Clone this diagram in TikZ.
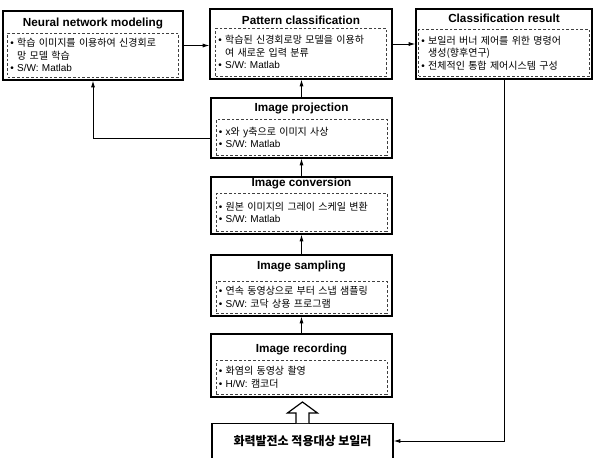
\documentclass[tikz,border=0pt]{standalone}
\usepackage{fontspec}
\setmainfont{Liberation Sans}
\newfontfamily\kr{Noto Sans CJK KR}
\newfontfamily\lat{Liberation Sans}
\usetikzlibrary{positioning, arrows.meta, calc}
\tikzset{
  blk/.style={draw, line width=0.9pt, inner sep=0pt},
  ttl/.style={font=\bfseries\fontsize{8.8}{10}\selectfont, inner sep=0pt, anchor=base},
  lst/.style={draw=black!75, dash pattern=on 2pt off 1.5pt, line width=0.4pt, anchor=south,
    text width=124pt, align=left, inner sep=2pt, font=\kr\fontsize{7.5}{9.4}\selectfont},
  arr/.style={-{Latex[length=5pt,width=3pt]}, line width=0.7pt},
}
\newcommand{\bul}{{\lat •}\ }
\newcommand{\ind}{\phantom{\bul}}
\begin{document}
\begin{tikzpicture}[x=0.75pt, y=-0.75pt]
  \useasboundingbox (0,0) rectangle (594,458);
  % top row
  \node[blk, minimum width=135pt, minimum height=51.75pt] (nn) at (93,45.5) {};
  \node[ttl] (nnt) at ([yshift=-12pt]nn.north) {Neural network modeling};
  \node[lst, minimum height=33pt] (nnl) at ([yshift=2.25pt]nn.south)
    {\bul 학습 이미지를 이용하여 신경회로\\\ind 망 모델 학습\\\bul{\lat S/W: Matlab}};

  \node[blk, minimum width=136.5pt, minimum height=52.5pt] (pc) at (301,44) {};
  \node[ttl] (pct) at ([yshift=-12pt]pc.north) {Pattern classification};
  \node[lst, minimum height=36pt] (pcl) at ([yshift=2.25pt]pc.south)
    {\bul 학습된 신경회로망 모델을 이용하\\\ind 여 새로운 입력 분류\\\bul{\lat S/W: Matlab}};

  \node[blk, minimum width=132pt, minimum height=52.5pt] (cr) at (504,44) {};
  \node[ttl] (crt) at ([yshift=-10.5pt]cr.north) {Classification result};
  \node[lst, minimum height=35.25pt] (crl) at ([yshift=2.25pt]cr.south)
    {\bul 보일러 버너 제어를 위한 명령어\\\ind 생성(향후연구)\\\bul 전체적인 통합 제어시스템 구성};

  % processing chain
  \node[blk, minimum width=135.75pt, minimum height=45pt] (pj) at (301.5,128) {};
  \node[ttl] (pjt) at ([yshift=-10.5pt]pj.north) {Image projection};
  \node[lst, minimum height=27pt] (pjl) at ([yshift=2.25pt]pj.south)
    {\bul x와 y축으로 이미지 사상\\\bul{\lat S/W: Matlab}};

  \node[blk, minimum width=135.75pt, minimum height=42.75pt] (cv) at (301.5,205.5) {};
  \node[ttl] (cvt) at ([yshift=-7.5pt]cv.north) {Image conversion};
  \node[lst, minimum height=28.5pt] (cvl) at ([yshift=2.25pt]cv.south)
    {\bul 원본 이미지의 그레이 스케일 변환\\\bul{\lat S/W: Matlab}};

  \node[blk, minimum width=135.75pt, minimum height=45.75pt] (sp) at (301.5,285.5) {};
  \node[ttl] (spt) at ([yshift=-11.25pt]sp.north) {Image sampling};
  \node[lst, minimum height=24pt] (spl) at ([yshift=2.25pt]sp.south)
    {\bul 연속 동영상으로 부터 스냅 샘플링\\\bul{\lat S/W:} 코닥 상용 프로그램};

  \node[blk, minimum width=135.75pt, minimum height=47.25pt] (rc) at (301.5,365.5) {};
  \node[ttl] (rct) at ([yshift=-14.25pt]rc.north) {Image recording};
  \node[lst, minimum height=25.5pt] (rcl) at ([yshift=2.25pt]rc.south)
    {\bul 화염의 동영상 촬영\\\bul{\lat H/W:} 캠코더};

  % boiler (runs off the bottom edge)
  \node[blk, minimum width=135.75pt, minimum height=39pt, anchor=north] (bl) at (302.5,423) {};
  \node[font=\kr\bfseries\fontsize{9}{10}\selectfont] (blt) at (302.5,441) {화력발전소 적용대상 보일러};

  % connectors
  \draw[arr] (nn.east) -- (nn.east -| pc.west);
  \draw[arr] (pc.east) -- (cr.west);
  \draw[arr] (pj.north) -- (pj.north |- pc.south);
  \draw[arr] ([yshift=-7.5pt]pj.west) -| (nn.south);
  \draw[arr] (cv.north) -- (cv.north |- pj.south);
  \draw[arr] (sp.north) -- (sp.north |- cv.south);
  \draw[arr] (rc.north) -- (rc.north |- sp.south);
  \draw[arr] (cr.south) |- (blt.east -| bl.east);
  % hollow arrow boiler -> recording
  \draw[line width=0.9pt, fill=white] ([xshift=-4.9pt]bl.north) -- ++(0,-10) -- ++(-8.5,0)
    -- ++(15,-11) -- ++(15,11) -- ++(-8.5,0) -- ++(0,10);
\end{tikzpicture}
\end{document}
